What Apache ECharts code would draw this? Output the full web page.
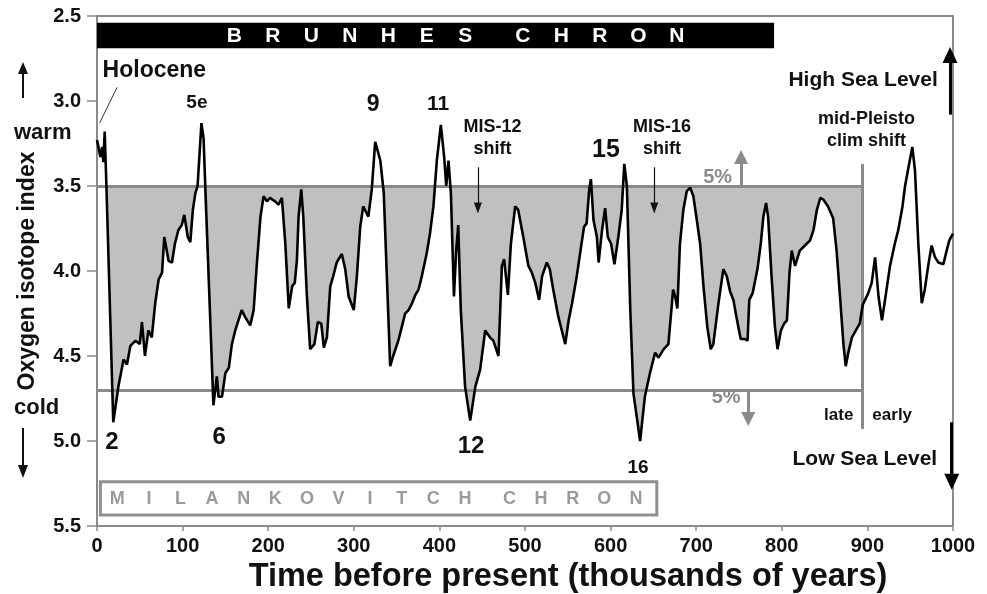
<!DOCTYPE html>
<html>
<head>
<meta charset="utf-8">
<script src="https://cdn.jsdelivr.net/npm/echarts@6/dist/echarts.min.js"></script>
<style>
  html, body { margin: 0; padding: 0; background: #fff; }
  #chart { width: 987px; height: 594px; }
</style>
</head>
<body>
<div id="chart"></div>
<script>
// time before present (kyr) and oxygen isotope index
const years = [0, 4, 6, 7.5, 9, 11, 19, 25, 31, 35, 39, 45, 50, 52.5, 56, 60, 64, 68, 72, 76, 78.6, 83.6, 87.6, 91, 95, 99, 102, 106, 109, 112, 115, 117.5, 122, 124.5, 126.5, 136, 140, 142, 146, 150, 154, 157.6, 161.5, 169, 173, 179, 183, 187, 191, 194.6, 198.5, 202, 208, 212, 216, 220, 224, 228, 231, 233.5, 235.5, 238.6, 241, 245, 249, 254, 258, 262, 265, 268.6, 272.5, 276, 280, 286, 290, 294, 300, 303.6, 307.5, 311, 317, 321, 325, 331, 335, 338.6, 342.5, 346, 352, 356, 360, 364, 368, 372, 375.6, 379.5, 385, 389, 393, 397, 401.7, 405.6, 408, 410.6, 413.4, 417, 419.6, 422, 425, 430, 436, 442, 447.6, 453.5, 459, 463, 469, 473, 475.6, 480, 483.5, 488.5, 492, 498, 504, 508, 512, 516.5, 520, 525.5, 529, 533, 539, 543, 547, 551, 555, 560.5, 566, 569, 572, 575, 577, 580, 584, 586, 590, 593.6, 596.7, 600.6, 604.5, 609, 613, 616, 619, 623, 626.7, 634.5, 640, 646, 652, 656, 662, 667.5, 671, 673, 675.5, 678, 681, 685, 689, 693, 696.7, 700.7, 704.6, 708.5, 713, 717, 720, 726, 731.7, 735.7, 739.6, 743.5, 747, 752, 757, 760, 762, 766, 771.5, 775.4, 778.5, 781.6, 784, 788, 792, 795, 799, 802.6, 806, 809, 811.6, 815.5, 821, 827, 833, 837, 841, 845, 848.5, 854, 860, 864, 868, 872, 874.7, 877.7, 882, 887.5, 891, 894.5, 901, 905, 909, 913, 917, 920.6, 926.4, 932, 936, 941, 944, 948, 952.5, 955.6, 959.5, 963.5, 967, 971, 975, 979, 983, 988.7, 992.6, 995.7, 1000];
const isotope = [3.23, 3.33, 3.27, 3.36, 3.18, 3.5, 4.89, 4.68, 4.52, 4.55, 4.44, 4.41, 4.43, 4.3, 4.5, 4.35, 4.39, 4.19, 4.05, 4.01, 3.8, 3.94, 3.95, 3.84, 3.76, 3.73, 3.67, 3.8, 3.83, 3.64, 3.54, 3.5, 3.13, 3.22, 3.5, 4.79, 4.62, 4.74, 4.74, 4.6, 4.57, 4.43, 4.35, 4.23, 4.27, 4.32, 4.23, 3.94, 3.68, 3.56, 3.59, 3.57, 3.59, 3.61, 3.57, 3.84, 4.22, 4.09, 4.07, 3.94, 3.68, 3.52, 3.68, 4.13, 4.46, 4.43, 4.3, 4.31, 4.45, 4.39, 4.09, 4.03, 3.95, 3.9, 3.99, 4.15, 4.23, 4.03, 3.74, 3.62, 3.68, 3.52, 3.24, 3.35, 3.54, 4.03, 4.56, 4.5, 4.41, 4.33, 4.25, 4.23, 4.19, 4.14, 4.11, 4.03, 3.9, 3.78, 3.62, 3.35, 3.14, 3.33, 3.5, 3.35, 3.54, 4.15, 3.88, 3.73, 4.23, 4.68, 4.88, 4.68, 4.58, 4.35, 4.39, 4.41, 4.5, 3.97, 3.93, 4.14, 3.84, 3.62, 3.64, 3.8, 3.97, 4.01, 4.07, 4.17, 4.03, 3.95, 3.99, 4.11, 4.27, 4.35, 4.43, 4.29, 4.19, 4.03, 3.84, 3.74, 3.72, 3.52, 3.46, 3.7, 3.8, 3.95, 3.76, 3.63, 3.8, 3.84, 3.96, 3.8, 3.64, 3.37, 3.5, 4.23, 4.72, 5.0, 4.74, 4.6, 4.48, 4.51, 4.46, 4.43, 4.23, 4.11, 4.15, 4.22, 3.84, 3.64, 3.53, 3.51, 3.56, 3.7, 3.84, 4.09, 4.33, 4.46, 4.43, 4.19, 3.99, 4.03, 4.12, 4.17, 4.27, 4.4, 4.4, 4.41, 4.17, 4.13, 3.99, 3.84, 3.68, 3.6, 3.68, 4.03, 4.33, 4.46, 4.35, 4.31, 4.29, 4.01, 3.88, 3.97, 3.88, 3.85, 3.82, 3.76, 3.64, 3.57, 3.58, 3.62, 3.69, 3.88, 4.15, 4.43, 4.56, 4.48, 4.39, 4.34, 4.31, 4.2, 4.13, 4.07, 3.92, 4.15, 4.29, 4.17, 3.97, 3.84, 3.76, 3.62, 3.5, 3.39, 3.27, 3.41, 3.84, 4.19, 4.11, 3.97, 3.85, 3.92, 3.95, 3.96, 3.88, 3.82, 3.78];

const warmLevel = 3.5;     // upper 5% line
const coldLevel = 4.7;     // lower 5% line
const shiftYear = 894.5;   // mid-Pleistocene climate shift

const FONT = 'Liberation Sans, Arial, sans-serif';

// fill between the curve and the 3.5 line, only where the curve is colder than it
function fillPoints(xs, ys, level, xEnd) {
  const pts = [];
  for (let i = 0; i < xs.length && xs[i] <= xEnd; i++) {
    if (i > 0) {
      const y0 = ys[i - 1], y1 = ys[i];
      if ((y0 - level) * (y1 - level) < 0) {
        const t = (level - y0) / (y1 - y0);
        pts.push([xs[i - 1] + t * (xs[i] - xs[i - 1]), level]);
      }
    }
    pts.push([xs[i], Math.max(ys[i], level)]);
  }
  return pts;
}

function spaced(text, cls, gap) {
  return text.split('').map((c) => c === ' ' ? '{' + gap + '| }' : '{' + cls + '|' + c + '}').join('');
}

const labels = [
  { value: [67, 2.82], text: 'Holocene', size: 23 },
  { value: [116.7, 3.01], text: '5e', size: 19 },
  { value: [322.6, 3.02], text: '9', size: 23 },
  { value: [398.6, 3.02], text: '11', size: 21 },
  { value: [462, 3.22], text: 'MIS-12\nshift', size: 18 },
  { value: [594.6, 3.29], text: '15', size: 25 },
  { value: [660, 3.22], text: 'MIS-16\nshift', size: 18 },
  { value: [725, 3.45], text: '5%', size: 20, color: '#8a8a8a' },
  { value: [735, 4.745], text: '5%', size: 20, color: '#8a8a8a' },
  { value: [899, 3.17], text: 'mid-Pleisto\nclim shift', size: 18 },
  { value: [895, 2.88], text: 'High Sea Level', size: 21 },
  { value: [897, 5.105], text: 'Low Sea Level', size: 21 },
  { value: [866.5, 4.85], text: 'late', size: 17 },
  { value: [929, 4.85], text: 'early', size: 17 },
  { value: [17.5, 5.01], text: '2', size: 24 },
  { value: [142.6, 4.98], text: '6', size: 24 },
  { value: [436.9, 5.03], text: '12', size: 24 },
  { value: [632, 5.16], text: '16', size: 19 }
];

function arrow(from, to, color, width, head) {
  return [
    { coord: from, symbol: 'none', lineStyle: { color, width, type: 'solid' } },
    { coord: to, symbol: 'triangle', symbolSize: head }
  ];
}

const chart = echarts.init(document.getElementById('chart'));

chart.setOption({
  animation: false,
  backgroundColor: '#fff',
  textStyle: { fontFamily: FONT },
  grid: {
    left: 97, right: 34, top: 16, bottom: 68,
    outerBoundsMode: 'none',
    containLabel: false,
    show: true, borderColor: '#8a8a8a', borderWidth: 2
  },
  xAxis: {
    type: 'value',
    min: 0, max: 1000, interval: 100,
    name: 'Time before present (thousands of years)',
    nameLocation: 'middle',
    nameGap: 33,
    nameTextStyle: { fontSize: 32.5, fontWeight: 'bold', color: '#111', padding: [0, 0, 0, 86] },
    axisLine: { lineStyle: { color: '#8a8a8a', width: 2 } },
    axisTick: { length: 5, lineStyle: { color: '#8a8a8a', width: 1.5 } },
    axisLabel: { fontSize: 20, fontWeight: 'bold', color: '#111', margin: 10, formatter: (v) => String(v) },
    splitLine: { show: false }
  },
  yAxis: {
    type: 'value',
    inverse: true,
    min: 2.5, max: 5.5, interval: 0.5,
    name: 'Oxygen isotope index',
    nameLocation: 'middle',
    nameGap: 58,
    nameTextStyle: { fontSize: 23, fontWeight: 'bold', color: '#111' },
    axisLine: { show: true, lineStyle: { color: '#8a8a8a', width: 2 } },
    axisTick: { show: true, length: 10, lineStyle: { color: '#8a8a8a', width: 1.5 } },
    axisLabel: { fontSize: 20, fontWeight: 'bold', color: '#111', margin: 16, formatter: (v) => v.toFixed(1) },
    splitLine: { show: false }
  },
  graphic: [
    { type: 'line', shape: { x1: 23, y1: 98, x2: 23, y2: 72 }, style: { stroke: '#111', lineWidth: 2 } },
    { type: 'polygon', shape: { points: [[23, 62], [18, 74], [28, 74]] }, style: { fill: '#111' } },
    { type: 'text', left: 14, top: 122, style: { text: 'warm', font: 'bold 22px ' + FONT, fill: '#111' } },
    { type: 'text', left: 14, top: 397, style: { text: 'cold', font: 'bold 22px ' + FONT, fill: '#111' } },
    { type: 'line', shape: { x1: 23, y1: 428, x2: 23, y2: 466 }, style: { stroke: '#111', lineWidth: 2 } },
    { type: 'polygon', shape: { points: [[23, 478], [18, 465], [28, 465]] }, style: { fill: '#111' } }
  ],
  series: [
    {
      name: 'fill',
      type: 'line',
      data: fillPoints(years, isotope, warmLevel, shiftYear),
      symbol: 'none',
      lineStyle: { width: 0 },
      areaStyle: { color: '#c0c0c0', opacity: 1, origin: warmLevel },
      silent: true,
      z: 2,
      markLine: {
        silent: true,
        symbol: 'none',
        label: { show: false },
        lineStyle: { color: '#8a8a8a', width: 3, type: 'solid' },
        data: [
          [{ coord: [0, warmLevel] }, { coord: [shiftYear, warmLevel] }],
          [{ coord: [0, coldLevel] }, { coord: [shiftYear, coldLevel] }],
          [{ coord: [shiftYear, 3.37] }, { coord: [shiftYear, 4.93] }]
        ]
      }
    },
    {
      name: 'isotope',
      type: 'line',
      data: years.map((x, i) => [x, isotope[i]]),
      symbol: 'none',
      lineStyle: { color: '#000', width: 2.6 },
      z: 5
    },
    {
      name: 'annotations',
      type: 'line',
      data: [],
      z: 6,
      markArea: {
        silent: true,
        data: [
          [
            {
              coord: [0, 2.54],
              itemStyle: { color: '#000' },
              label: {
                show: true, position: 'inside', offset: [20, 1],
                formatter: spaced('BRUNHES CHRON', 'l', 'g'),
                rich: {
                  l: { width: 38.5, align: 'center', color: '#fff', fontSize: 21, fontWeight: 'bold', fontFamily: FONT },
                  g: { width: 19, fontSize: 21 }
                }
              }
            },
            { coord: [791, 2.69] }
          ],
          [
            {
              coord: [4, 5.24],
              itemStyle: { color: 'rgba(0,0,0,0)', borderColor: '#909090', borderWidth: 3 },
              label: {
                show: true, position: 'inside', offset: [-2, 1],
                formatter: spaced('MILANKOVITCH CHRON', 'm', 'h'),
                rich: {
                  m: { width: 31.6, align: 'center', color: '#9a9a9a', fontSize: 18, fontWeight: 'bold', fontFamily: FONT },
                  h: { width: 13, fontSize: 18 }
                }
              }
            },
            { coord: [654, 5.435] }
          ]
        ]
      },
      markLine: {
        silent: true,
        label: { show: false },
        data: [
          [
            { coord: [3, 3.13], symbol: 'none', lineStyle: { color: '#333', width: 1, type: 'solid' } },
            { coord: [23.4, 2.92], symbol: 'none' }
          ],
          arrow([445, 3.39], [445, 3.63], '#111', 1.2, [8, 11]),
          arrow([651, 3.39], [651, 3.63], '#111', 1.2, [8, 11]),
          arrow([752.4, 3.5], [752.4, 3.33], '#8a8a8a', 3, [14, 14]),
          arrow([760.8, 4.7], [760.8, 4.87], '#8a8a8a', 3, [14, 14]),
          arrow([996.5, 3.08], [996.5, 2.73], '#000', 3, [15, 16]),
          arrow([998.5, 4.89], [998.5, 5.24], '#000', 3, [15, 16])
        ]
      }
    },
    {
      name: 'labels',
      type: 'scatter',
      symbolSize: 0,
      silent: true,
      itemStyle: { opacity: 1 },
      z: 10,
      data: labels.map((d) => ({
        value: d.value,
        label: {
          show: true,
          position: 'inside',
          formatter: d.text,
          fontSize: d.size,
          lineHeight: Math.round(d.size * 1.2),
          fontWeight: 'bold',
          fontFamily: FONT,
          color: d.color || '#111',
          align: 'center'
        }
      }))
    }
  ]
});
</script>
</body>
</html>
